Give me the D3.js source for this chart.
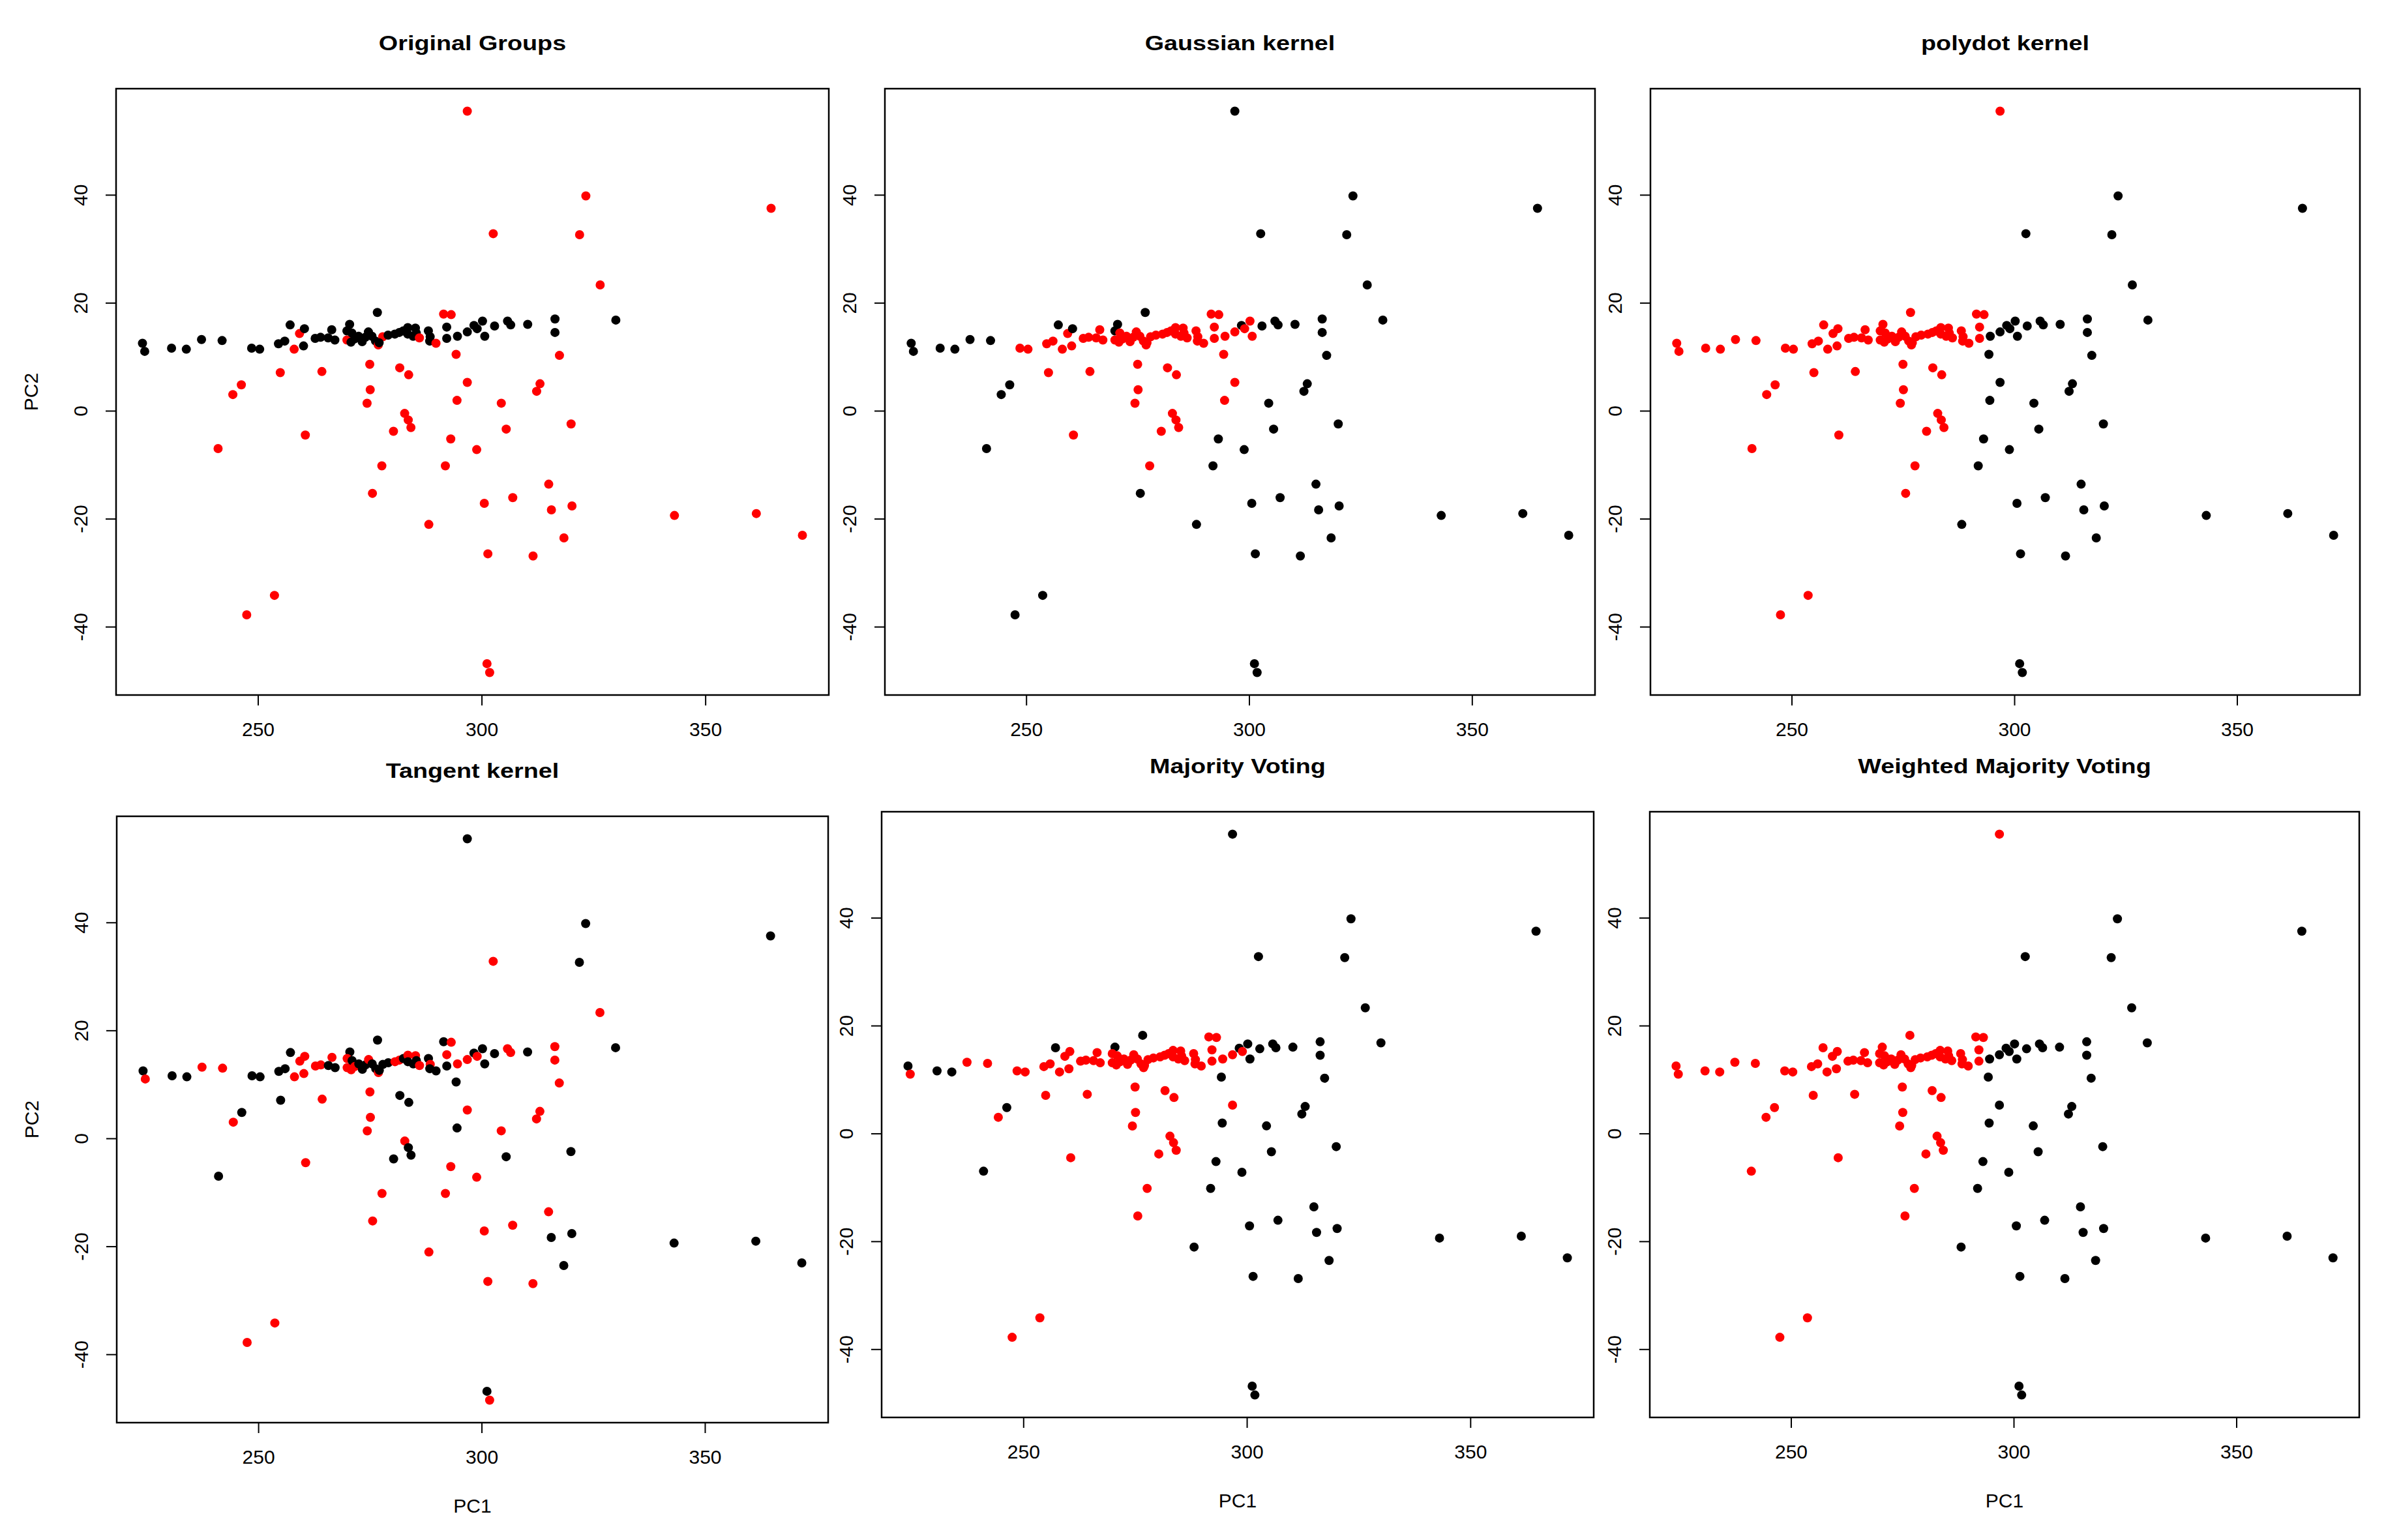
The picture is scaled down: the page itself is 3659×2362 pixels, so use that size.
<!DOCTYPE html>
<html>
<head>
<meta charset="utf-8">
<script src="https://cdn.jsdelivr.net/npm/d3@7"></script>
<style>
  body { margin: 0; background: #fff; }
  text { font-family: "Liberation Sans", Arial, sans-serif; }
</style>
</head>
<body>
<div id="chart"></div>
<script>
// PCA scores, one entry per observation (blocks: left band, dense band, right band, scattered)
var pc1 = [
  224.2, 224.7, 230.7, 234.0, 237.4, 242.0, 248.6, 250.4, 254.6, 256.0, 257.2, 259.3, 260.4, 258.1, 260.2, 262.8, 264.0, 266.5, 265.7, 267.2, 269.9, 270.5, 269.9,
  271.0, 271.6, 272.5, 273.3, 274.0, 274.7, 275.5, 276.3, 276.9, 277.9, 277.1, 279.1, 280.6, 281.6, 282.5, 283.5, 285.2, 283.5, 285.4, 284.7, 286.1, 288.1, 288.5, 288.4, 289.8, 276.7, 270.8,
  291.5, 293.2, 292.2, 292.2, 294.6, 296.8, 298.3, 299.0, 300.2, 300.7, 302.9, 305.8, 306.5, 310.3, 316.4, 316.4, 330.0,
  246.3, 244.4, 241.1, 247.5, 253.7, 255.0, 264.3, 260.6, 275.0, 281.7, 283.7, 275.1, 274.4, 282.8, 283.6, 284.2, 280.3, 277.7, 275.6, 288.2,
  291.9, 293.1, 298.9, 296.8, 294.5, 294.3, 296.8, 323.3, 364.7, 302.6, 321.9, 326.5, 317.4, 304.4, 305.5, 313.05, 312.3, 320.0, 315.0, 306.96,
  300.6, 315.6, 320.2, 343.1, 361.4, 371.7, 318.4, 301.4, 311.5, 301.2, 301.8
];
var pc2 = [
  12.5, 11.0, 11.6, 11.4, 13.2, 13.0, 11.6, 11.4, 12.4, 12.9, 15.9, 14.3, 15.2, 11.4, 12.0, 13.4, 13.6, 15.0, 13.5, 13.1, 13.1, 16.0, 14.8,
  14.4, 13.3, 13.8, 12.8, 13.6, 14.6, 13.8, 12.9, 12.2, 13.7, 12.6, 14.0, 14.2, 14.5, 14.8, 15.4, 15.3, 14.2, 14.4, 13.8, 13.5, 14.8, 13.7, 12.9, 12.5, 18.2, 12.7,
  17.9, 17.8, 15.5, 13.4, 13.8, 14.6, 15.8, 15.2, 16.6, 13.8, 15.7, 16.6, 15.9, 16.0, 17.0, 14.5, 16.8,
  4.8, 3.0, -7.0, -37.8, -34.2, 7.06, 7.26, -4.5, 8.6, 7.95, 6.66, 3.9, 1.39, -0.5, -1.71, -3.12, -3.8, -10.2, -15.3, -21.06,
  -10.2, -5.22, -7.2, 5.25, 1.92, 10.45, 55.5, 39.8, 37.5, 32.8, 32.6, 23.3, 10.25, 1.4, -3.4, 5.0, 3.6, -2.44, -13.6, -16.1,
  -17.15, -18.36, -17.63, -19.4, -19.04, -23.07, -23.55, -26.5, -26.9, -46.85, -48.5
];

// group per observation (1 = red group, 0 = black group), same order as above
function groups(s) { return s.replace(/\s/g, "").split("").map(Number); }
var grpOriginal = groups("00000000000101000000100 000000001100000000001000100 11000000000000000 " +
  "1111111111 1111111111 1111111111 1111111111 1111111111 1");
var grpGaussian = groups("00000011110101111111100 111111111111111111111111101 11111101110000000 " +
  "0000011111 1111111100 0001110000 0000000000 0000000000 0");
var grpPolydot = groups("11111111111111111111111 111111111111111111111111111 11110000000000000 " +
  "1111111111 1111111110 0000001000 0000000000 0000000000 0");
var grpTangent = groups("01001100000111111100101 010001001000110110001010001 01101101000110110 " +
  "0101101110 0111000111 1111000001 0111011011 1000000110 1");
var grpMajority = groups("01001111110111111111101 111111111111111111111111101 11111101000000000 " +
  "0101111111 1111111110 0001000000 0000000000 0000000000 0");
var grpWeighted = groups("11111111111111111111111 111111111111111111111111111 11110000000000000 " +
  "1111111111 1111111110 0000001000 0000000000 0000000000 0");

var titles = ["Original Groups", "Gaussian kernel", "polydot kernel",
              "Tangent kernel", "Majority Voting", "Weighted Majority Voting"];
var xTicks = [250, 300, 350];
var yTicks = [-40, -20, 0, 20, 40];
var groupColors = ["#000000", "#ff0000"];

var W = 3659, H = 2362;
var svg = d3.select("#chart").append("svg")
    .attr("width", W)
    .attr("height", H)
    .style("background", "#fff");

// R style 4% padding on the data range
function padded(v) {
    var e = d3.extent(v), r = e[1] - e[0];
    return [e[0] - 0.04 * r, e[1] + 0.04 * r];
}
var xDom = padded(pc1), yDom = padded(pc2);
var plain = function (d) { return String(d); };   // ascii hyphen like R

var panels = [
    {grp: grpOriginal, x0: 178,  x1: 1271, y0: 136,  y1: 1066, pc1: false, pc2: true},
    {grp: grpGaussian, x0: 1357, x1: 2446, y0: 136,  y1: 1066, pc1: false, pc2: false},
    {grp: grpPolydot,  x0: 2531, x1: 3619, y0: 136,  y1: 1066, pc1: false, pc2: false},
    {grp: grpTangent,  x0: 179,  x1: 1270, y0: 1252, y1: 2182, pc1: true,  pc2: true},
    {grp: grpMajority, x0: 1352, x1: 2444, y0: 1245, y1: 2174, pc1: true,  pc2: false},
    {grp: grpWeighted, x0: 2530, x1: 3618, y0: 1245, y1: 2174, pc1: true,  pc2: false}
];

panels.forEach(function (p, i) {
    var x = d3.scaleLinear().domain(xDom).range([p.x0, p.x1]);
    var y = d3.scaleLinear().domain(yDom).range([p.y1, p.y0]);
    var g = svg.append("g");

    // points
    g.append("g").selectAll("circle")
        .data(pc1.map(function (d, k) { return {x: d, y: pc2[k], c: p.grp[k]}; }))
        .enter().append("circle")
        .attr("cx", function (d) { return x(d.x); })
        .attr("cy", function (d) { return y(d.y); })
        .attr("r", 7)
        .attr("fill", function (d) { return groupColors[d.c]; });

    // box
    g.append("rect")
        .attr("x", p.x0).attr("y", p.y0)
        .attr("width", p.x1 - p.x0).attr("height", p.y1 - p.y0)
        .attr("fill", "none")
        .attr("stroke", "#000")
        .attr("stroke-width", 2.5);

    // x axis
    var xa = g.append("g")
        .attr("transform", "translate(0," + p.y1 + ")")
        .call(d3.axisBottom(x).tickValues(xTicks).tickSize(16).tickPadding(26).tickFormat(plain));
    xa.select(".domain").remove();
    xa.selectAll("line").attr("stroke-width", 2);
    xa.selectAll("text").attr("font-size", 30).attr("fill", "#000")
        .style("font-family", "'Liberation Sans', Arial, sans-serif");

    // y axis, labels parallel to the axis
    var ya = g.append("g")
        .attr("transform", "translate(" + p.x0 + ",0)")
        .call(d3.axisLeft(y).tickValues(yTicks).tickSize(16).tickFormat(plain));
    ya.select(".domain").remove();
    ya.selectAll("line").attr("stroke-width", 2);
    ya.selectAll("text")
        .attr("x", 0).attr("y", -44).attr("dy", 0)
        .attr("text-anchor", "middle")
        .attr("transform", "rotate(-90)")
        .attr("font-size", 30).attr("fill", "#000")
        .style("font-family", "'Liberation Sans', Arial, sans-serif");

    // title
    g.append("text")
        .attr("transform", "translate(" + ((p.x0 + p.x1) / 2) + "," + (p.y0 - 59) + ") scale(1.18,1)")
        .attr("text-anchor", "middle")
        .attr("font-size", 32)
        .attr("font-weight", "bold")
        .text(titles[i]);

    if (p.pc1) {
        g.append("text")
            .attr("x", (p.x0 + p.x1) / 2)
            .attr("y", p.y1 + 138)
            .attr("text-anchor", "middle")
            .attr("font-size", 30)
            .text("PC1");
    }
    if (p.pc2) {
        g.append("text")
            .attr("transform", "translate(" + (p.x0 - 120) + "," + ((p.y0 + p.y1) / 2) + ") rotate(-90)")
            .attr("text-anchor", "middle")
            .attr("font-size", 30)
            .text("PC2");
    }
});
</script>
</body>
</html>
